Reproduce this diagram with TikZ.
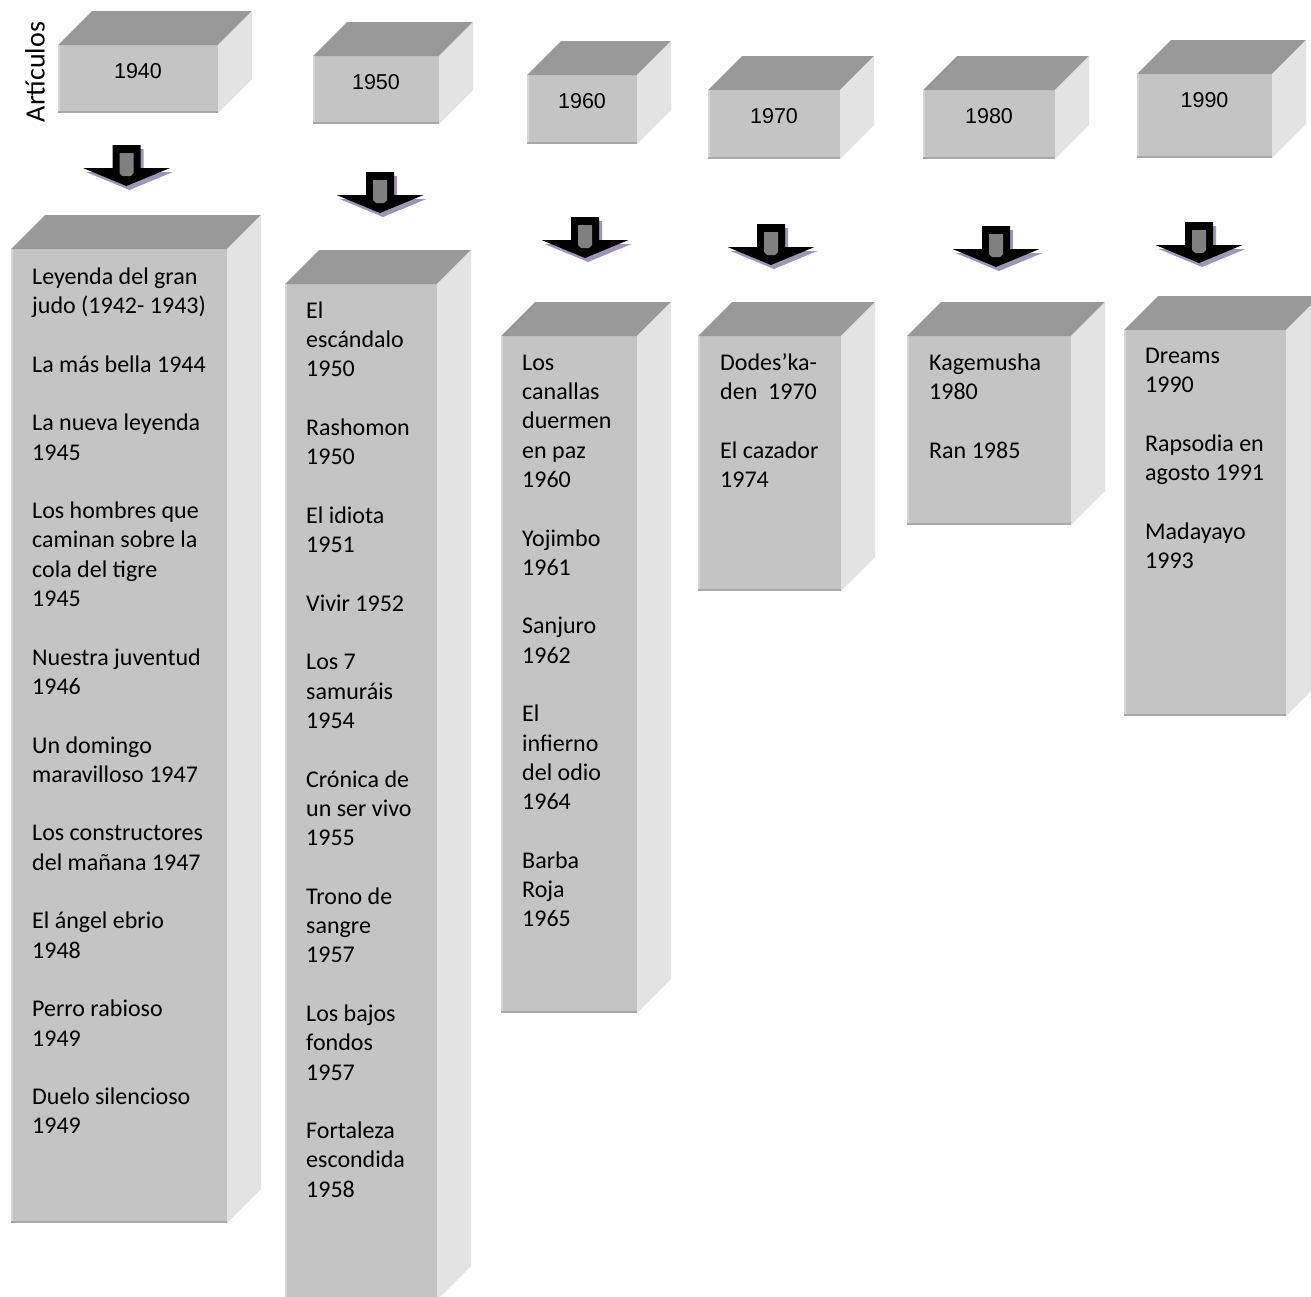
\documentclass[tikz,border=0pt]{standalone}
\usepackage{fontspec}
\setmainfont{Carlito}
\newfontfamily\arialf{Liberation Sans}
\definecolor{frontc}{RGB}{196,196,196}
\definecolor{topc}{RGB}{153,153,153}
\definecolor{sidec}{RGB}{227,227,227}
\definecolor{edgec}{RGB}{168,168,168}
\definecolor{lightedge}{RGB}{214,214,214}
\definecolor{shadowc}{RGB}{158,150,178}
\definecolor{innerc}{RGB}{128,128,128}
\tikzset{
  frontface/.style={rectangle, fill=frontc, draw=none, inner sep=0pt, outer sep=0pt},
  yearlbl/.style={font=\arialf\fontsize{21.5}{24}\selectfont, inner sep=0pt, text=black},
  coltext/.style={font=\fontsize{24}{29.3}\selectfont, align=left, inner sep=0pt, anchor=north west, text=black},
}
\newcommand{\fl}{\rule{0pt}{20pt}}
\newcommand{\mkblock}[5]{%
  \node[frontface, minimum width=#4pt, minimum height=#5pt, anchor=north west] (#1) at (#2,#3) {};
  \fill[topc] (#1.north west) -- ++(34pt,34pt) -- ([shift={(34pt,34pt)}]#1.north east) -- (#1.north east) -- cycle;
  \fill[sidec] (#1.north east) -- ++(34pt,34pt) -- ([shift={(34pt,34pt)}]#1.south east) -- (#1.south east) -- cycle;
  \draw[lightedge, line width=1.5pt] ([xshift=0.75pt]#1.south west) -- ([xshift=0.75pt]#1.north west);
  \draw[edgec, line width=2pt] ([yshift=1pt]#1.south west) -- ([yshift=1pt]#1.south east);
}
\newcommand{\mkarrow}[2]{%
  \begin{scope}[shift={(#1,#2)}]
    \fill[shadowc] (-11,4) -- (17,4) -- (17,27) -- (46.5,27) -- (3,45) -- (-40.5,27) -- (-11,27) -- cycle;
    \fill[black] (-14,0) -- (14,0) -- (14,23) -- (43.5,23) -- (0,41) -- (-43.5,23) -- (-14,23) -- cycle;
    \fill[innerc] (-7,8) -- (7,8) -- (7,28) -- (4,31) -- (-4,31) -- (-7,28) -- cycle;
  \end{scope}}
\begin{document}
\begin{tikzpicture}[x=1pt,y=-1pt]
\useasboundingbox (0,0) rectangle (1311,1296);
\clip (0,0) rectangle (1311,1296);

% year blocks
\mkblock{b1940}{58}{45}{160}{68}
\mkblock{b1950}{313}{56}{126}{68}
\mkblock{b1960}{527}{75}{110}{69}
\mkblock{b1970}{708}{90}{132}{69}
\mkblock{b1980}{923}{90}{132}{69}
\mkblock{b1990}{1137}{74}{135}{84}

\node[yearlbl] (t1940) at ([yshift=-26pt]b1940.north) {1940};
\node[yearlbl] (t1950) at ([yshift=-26pt]b1950.north) {1950};
\node[yearlbl] (t1960) at ([yshift=-26pt]b1960.north) {1960};
\node[yearlbl] (t1970) at ([yshift=-26pt]b1970.north) {1970};
\node[yearlbl] (t1980) at ([yshift=-26pt]b1980.north) {1980};
\node[yearlbl] (t1990) at ([yshift=-26pt]b1990.north) {1990};

\node[rotate=90, font=\fontsize{28}{30}\selectfont, inner sep=0pt] (art) at (35,72) {Artículos};

% arrows
\mkarrow{126.5}{145}
\mkarrow{380}{172}
\mkarrow{585}{217}
\mkarrow{771}{224}
\mkarrow{996}{226}
\mkarrow{1199}{222}

% columns
\mkblock{c1940}{11}{249}{216}{974}
\mkblock{c1950}{285}{284}{152}{1016}
\mkblock{c1960}{501}{336}{136}{677}
\mkblock{c1970}{698}{336}{143}{255}
\mkblock{c1980}{907}{336}{164}{189}
\mkblock{c1990}{1124}{330}{162}{386}

\node[coltext] (l1940) at (32,264) {\fl Leyenda del gran\\judo (1942- 1943)\\[29.3pt]%
La más bella 1944\\[29.3pt]%
La nueva leyenda\\1945\\[29.3pt]%
Los hombres que\\caminan sobre la\\cola del tigre\\1945\\[29.3pt]%
Nuestra juventud\\1946\\[29.3pt]%
Un domingo\\maravilloso 1947\\[29.3pt]%
Los constructores\\del mañana 1947\\[29.3pt]%
El ángel ebrio\\1948\\[29.3pt]%
Perro rabioso\\1949\\[29.3pt]%
Duelo silencioso\\1949};

\node[coltext] (l1950) at (306,298) {\fl El\\escándalo\\1950\\[29.3pt]%
Rashomon\\1950\\[29.3pt]%
El idiota\\1951\\[29.3pt]%
Vivir 1952\\[29.3pt]%
Los 7\\samuráis\\1954\\[29.3pt]%
Crónica de\\un ser vivo\\1955\\[29.3pt]%
Trono de\\sangre\\1957\\[29.3pt]%
Los bajos\\fondos\\1957\\[29.3pt]%
Fortaleza\\escondida\\1958};

\node[coltext] (l1960) at (522,350) {\fl Los\\canallas\\duermen\\en paz\\1960\\[29.3pt]%
Yojimbo\\1961\\[29.3pt]%
Sanjuro\\1962\\[29.3pt]%
El\\infierno\\del odio\\1964\\[29.3pt]%
Barba\\Roja\\1965};

\node[coltext] (l1970) at (720,350) {\fl Dodes’ka-\\den\ \ 1970\\[29.3pt]%
El cazador\\1974};

\node[coltext] (l1980) at (929,350) {\fl Kagemusha\\1980\\[29.3pt]%
Ran 1985};

\node[coltext] (l1990) at (1145,343) {\fl Dreams\\1990\\[29.3pt]%
Rapsodia en\\agosto 1991\\[29.3pt]%
Madayayo\\1993};
\end{tikzpicture}
\end{document}
